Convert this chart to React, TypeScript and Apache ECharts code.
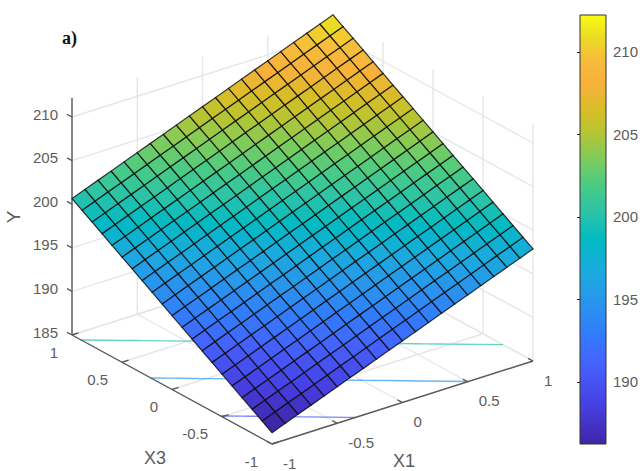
import React, { useEffect, useRef } from "react";
import * as echarts from "echarts";

const x1Grid = [-1,-0.9,-0.8,-0.7,-0.6,-0.5,-0.4,-0.3,-0.2,-0.1,0,0.1,0.2,0.3,0.4,0.5,0.6,0.7,0.8,0.9,1];
const x3Grid = [-1,-0.9,-0.8,-0.7,-0.6,-0.5,-0.4,-0.3,-0.2,-0.1,0,0.1,0.2,0.3,0.4,0.5,0.6,0.7,0.8,0.9,1];
// Y: one row per X3, one column per X1
const yRows = [
[186.30,186.88,187.46,188.03,188.61,189.19,189.77,190.34,190.92,191.50,192.08,192.65,193.23,193.81,194.39,194.96,195.54,196.12,196.70,197.27,197.85],
[187.02,187.60,188.18,188.75,189.33,189.91,190.49,191.06,191.64,192.22,192.80,193.37,193.95,194.53,195.11,195.68,196.26,196.84,197.42,197.99,198.57],
[187.74,188.32,188.90,189.47,190.05,190.63,191.21,191.78,192.36,192.94,193.52,194.09,194.67,195.25,195.83,196.40,196.98,197.56,198.14,198.71,199.29],
[188.45,189.03,189.61,190.18,190.76,191.34,191.92,192.49,193.07,193.65,194.23,194.80,195.38,195.96,196.54,197.11,197.69,198.27,198.85,199.42,200.00],
[189.17,189.75,190.33,190.90,191.48,192.06,192.64,193.21,193.79,194.37,194.95,195.52,196.10,196.68,197.26,197.83,198.41,198.99,199.57,200.14,200.72],
[189.89,190.47,191.05,191.62,192.20,192.78,193.36,193.93,194.51,195.09,195.67,196.24,196.82,197.40,197.98,198.55,199.13,199.71,200.29,200.86,201.44],
[190.61,191.19,191.77,192.34,192.92,193.50,194.08,194.65,195.23,195.81,196.39,196.96,197.54,198.12,198.70,199.27,199.85,200.43,201.01,201.58,202.16],
[191.32,191.90,192.48,193.05,193.63,194.21,194.79,195.36,195.94,196.52,197.10,197.67,198.25,198.83,199.41,199.98,200.56,201.14,201.72,202.29,202.87],
[192.04,192.62,193.20,193.77,194.35,194.93,195.51,196.08,196.66,197.24,197.82,198.39,198.97,199.55,200.13,200.70,201.28,201.86,202.44,203.01,203.59],
[192.76,193.34,193.92,194.49,195.07,195.65,196.23,196.80,197.38,197.96,198.54,199.11,199.69,200.27,200.85,201.42,202.00,202.58,203.16,203.73,204.31],
[193.48,194.06,194.64,195.21,195.79,196.37,196.95,197.52,198.10,198.68,199.26,199.83,200.41,200.99,201.57,202.14,202.72,203.30,203.88,204.45,205.03],
[194.19,194.77,195.35,195.92,196.50,197.08,197.66,198.23,198.81,199.39,199.97,200.54,201.12,201.70,202.28,202.85,203.43,204.01,204.59,205.16,205.74],
[194.91,195.49,196.07,196.64,197.22,197.80,198.38,198.95,199.53,200.11,200.69,201.26,201.84,202.42,203.00,203.57,204.15,204.73,205.31,205.88,206.46],
[195.63,196.21,196.79,197.36,197.94,198.52,199.10,199.67,200.25,200.83,201.41,201.98,202.56,203.14,203.72,204.29,204.87,205.45,206.03,206.60,207.18],
[196.35,196.93,197.51,198.08,198.66,199.24,199.82,200.39,200.97,201.55,202.13,202.70,203.28,203.86,204.44,205.01,205.59,206.17,206.75,207.32,207.90],
[197.06,197.64,198.22,198.79,199.37,199.95,200.53,201.10,201.68,202.26,202.84,203.41,203.99,204.57,205.15,205.72,206.30,206.88,207.46,208.03,208.61],
[197.78,198.36,198.94,199.51,200.09,200.67,201.25,201.82,202.40,202.98,203.56,204.13,204.71,205.29,205.87,206.44,207.02,207.60,208.18,208.75,209.33],
[198.50,199.08,199.66,200.23,200.81,201.39,201.97,202.54,203.12,203.70,204.28,204.85,205.43,206.01,206.59,207.16,207.74,208.32,208.90,209.47,210.05],
[199.22,199.80,200.38,200.95,201.53,202.11,202.69,203.26,203.84,204.42,205.00,205.57,206.15,206.73,207.31,207.88,208.46,209.04,209.62,210.19,210.77],
[199.93,200.51,201.09,201.66,202.24,202.82,203.40,203.97,204.55,205.13,205.71,206.28,206.86,207.44,208.02,208.59,209.17,209.75,210.33,210.90,211.48],
[200.65,201.23,201.81,202.38,202.96,203.54,204.12,204.69,205.27,205.85,206.43,207.00,207.58,208.16,208.74,209.31,209.89,210.47,211.05,211.62,212.20],
];

const x1Ticks = [-1, -0.5, 0, 0.5, 1];
const x3Ticks = [1, 0.5, 0, -0.5, -1];
const yTicks = [185, 190, 195, 200, 205, 210];
const contourLevels = [190, 195, 200, 205, 210];
const colorbarTicks = [190, 195, 200, 205, 210];
const yFloor = 185;
const yTop = 212.2;
const cMin = 186.24;
const cMax = 212.24;

const colormapStops: [number, string][] = [
  [0, "#3E26A8"], [0.095, "#4741E5"], [0.19, "#4563FD"], [0.254, "#327BFC"],
  [0.317, "#2B91EF"], [0.397, "#1CA9DF"], [0.476, "#02BAC3"], [0.54, "#2CC3A7"],
  [0.603, "#4ACB84"], [0.667, "#81CC59"], [0.73, "#B9C431"], [0.775, "#D6BE28"],
  [0.84, "#F8B13A"], [0.9, "#F6BE3A"], [0.95, "#EBDD22"], [1, "#F9FB15"],
];

function colorOf(v: number): string {
  const t = Math.max(0, Math.min(1, (v - cMin) / (cMax - cMin)));
  for (let k = 1; k < colormapStops.length; k++) {
    const [b, cb] = colormapStops[k];
    if (t <= b) {
      const [a, ca] = colormapStops[k - 1];
      return echarts.color.lerp((t - a) / (b - a), [ca, cb]) as string;
    }
  }
  return colormapStops[colormapStops.length - 1][1];
}

// orthographic view of the 3-D box
const view = { cx: 302.5, cy: 348, x1: [130.5, -41.5], x3: [-100, -54.5], y: -8.72 };
function project(x1: number, x3: number, y: number): [number, number] {
  return [
    view.cx + view.x1[0] * x1 + view.x3[0] * x3,
    view.cy + view.x1[1] * x1 + view.x3[1] * x3 + view.y * (y - yFloor),
  ];
}

type P3 = [number, number, number];
type Seg = [P3, P3];

const wallSegs: Seg[] = [];
for (const t of yTicks) {
  wallSegs.push([[-1, 1, t], [1, 1, t]]);
  wallSegs.push([[1, 1, t], [1, -1, t]]);
}
for (const t of x1Ticks) {
  wallSegs.push([[t, 1, yFloor], [t, 1, yTop]]);
  wallSegs.push([[t, 1, yFloor], [t, -1, yFloor]]);
}
for (const t of x3Ticks) {
  wallSegs.push([[1, t, yFloor], [1, t, yTop]]);
  wallSegs.push([[-1, t, yFloor], [1, t, yFloor]]);
}

const axisSegs: Seg[] = [
  [[-1, 1, yFloor], [-1, 1, yTop]],
  [[-1, 1, yFloor], [-1, -1, yFloor]],
  [[-1, -1, yFloor], [1, -1, yFloor]],
];
for (const t of yTicks) axisSegs.push([[-1, 1, t], [-1, 1.05, t]]);
for (const t of x3Ticks) axisSegs.push([[-1, t, yFloor], [-0.95, t, yFloor]]);
for (const t of x1Ticks) axisSegs.push([[t, -1, yFloor], [t, -0.95, yFloor]]);

const contourSegs: { seg: Seg; color: string }[] = [];
for (const level of contourLevels) {
  for (let j = 0; j < x3Grid.length - 1; j++) {
    for (let i = 0; i < x1Grid.length - 1; i++) {
      const corners: [number, number, number][] = [
        [x1Grid[i], x3Grid[j], yRows[j][i]],
        [x1Grid[i + 1], x3Grid[j], yRows[j][i + 1]],
        [x1Grid[i + 1], x3Grid[j + 1], yRows[j + 1][i + 1]],
        [x1Grid[i], x3Grid[j + 1], yRows[j + 1][i]],
      ];
      const hits: P3[] = [];
      for (let k = 0; k < 4; k++) {
        const a = corners[k];
        const b = corners[(k + 1) % 4];
        if (a[2] < level !== b[2] < level) {
          const f = (level - a[2]) / (b[2] - a[2]);
          hits.push([a[0] + (b[0] - a[0]) * f, a[1] + (b[1] - a[1]) * f, yFloor]);
        }
      }
      if (hits.length >= 2) contourSegs.push({ seg: [hits[0], hits[1]], color: colorOf(level) });
    }
  }
}

const FONT = "'Liberation Sans', Arial, sans-serif";
const TEXT = "#5c5c5c";

type Lab = { text: string; at: P3; dx: number; dy: number; align: string };
const tickLabels: Lab[] = [
  ...yTicks.map((t) => ({ text: String(t), at: [-1, 1, t] as P3, dx: -14, dy: -3, align: "right" })),
  ...x3Ticks.map((t) => ({ text: String(t), at: [-1, t, yFloor] as P3, dx: -14, dy: 17, align: "right" })),
  ...x1Ticks.map((t) => ({ text: String(t), at: [t, -1, yFloor] as P3, dx: 11, dy: 19, align: "left" })),
];

function segSeries(segs: Seg[], z: number, stroke: string, lineWidth: number) {
  return {
    type: "custom",
    xAxisIndex: 0,
    yAxisIndex: 0,
    z,
    silent: true,
    clip: false,
    data: segs.map((_, k) => [k]),
    renderItem: (_p: any, api: any) => {
      const s = segs[api.value(0)];
      const a = api.coord(project(s[0][0], s[0][1], s[0][2]));
      const b = api.coord(project(s[1][0], s[1][1], s[1][2]));
      return {
        type: "line",
        shape: { x1: a[0], y1: a[1], x2: b[0], y2: b[1] },
        style: { stroke, lineWidth, fill: "none" },
      };
    },
  };
}

export default function App() {
  const ref = useRef<HTMLDivElement>(null);
  useEffect(() => {
    const chart = echarts.init(ref.current!, undefined, { renderer: "svg" });
    const cells: number[][] = [];
    for (let j = 0; j < x3Grid.length - 1; j++)
      for (let i = 0; i < x1Grid.length - 1; i++) cells.push([i, j]);

    chart.setOption({
      animation: false,
      backgroundColor: "#fff",
      grid: [
        { left: 0, top: 0, width: 644, height: 471, show: false },
        { left: 580, top: 15, width: 26, height: 429, show: false },
      ],
      xAxis: [
        { type: "value", gridIndex: 0, min: 0, max: 644, show: false },
        { type: "value", gridIndex: 1, min: 0, max: 1, show: false },
      ],
      yAxis: [
        { type: "value", gridIndex: 0, min: 0, max: 471, inverse: true, show: false },
        {
          type: "value",
          gridIndex: 1,
          min: cMin,
          max: cMax,
          position: "right",
          splitLine: { show: false },
          axisLine: { show: false },
          axisTick: { show: true, inside: true, length: 3, customValues: colorbarTicks, lineStyle: { color: "#222", width: 1 } },
          axisLabel: { show: true, customValues: colorbarTicks, color: TEXT, fontSize: 15, fontFamily: FONT, margin: 7 },
          z: 5,
        },
      ],
      graphic: [
        { type: "text", x: 62, y: 38, style: { text: "a)", fill: "#111", font: "bold 18px 'Liberation Serif', serif", textVerticalAlign: "middle" } },
        { type: "text", x: 155, y: 458, style: { text: "X3", fill: TEXT, font: `18px ${FONT}`, textAlign: "center", textVerticalAlign: "middle" } },
        { type: "text", x: 404, y: 461, style: { text: "X1", fill: TEXT, font: `18px ${FONT}`, textAlign: "center", textVerticalAlign: "middle" } },
        { type: "text", x: 13, y: 217, rotation: Math.PI / 2, style: { text: "Y", fill: TEXT, font: `19px ${FONT}`, textAlign: "center", textVerticalAlign: "middle" } },
      ],
      series: [
        segSeries(wallSegs, 1, "#e6e6e6", 1.4),
        {
          type: "custom",
          xAxisIndex: 0,
          yAxisIndex: 0,
          z: 2,
          silent: true,
          clip: false,
          data: contourSegs.map((_, k) => [k]),
          renderItem: (_p: any, api: any) => {
            const c = contourSegs[api.value(0)];
            const a = api.coord(project(c.seg[0][0], c.seg[0][1], c.seg[0][2]));
            const b = api.coord(project(c.seg[1][0], c.seg[1][1], c.seg[1][2]));
            return {
              type: "line",
              shape: { x1: a[0], y1: a[1], x2: b[0], y2: b[1] },
              style: { stroke: c.color, lineWidth: 1.4, opacity: 0.7, fill: "none" },
            };
          },
        },
        segSeries(axisSegs, 3, "#5a5a5a", 1.4),
        {
          type: "custom",
          xAxisIndex: 0,
          yAxisIndex: 0,
          z: 4,
          silent: true,
          clip: false,
          data: cells,
          renderItem: (_p: any, api: any) => {
            const i = api.value(0);
            const j = api.value(1);
            const pts = [
              [i, j],
              [i + 1, j],
              [i + 1, j + 1],
              [i, j + 1],
            ].map(([a, b]) => api.coord(project(x1Grid[a], x3Grid[b], yRows[b][a])));
            return {
              type: "polygon",
              shape: { points: pts },
              style: { fill: colorOf(yRows[j][i]), stroke: "rgba(10,10,10,0.8)", lineWidth: 1.25 },
            };
          },
        },
        {
          type: "custom",
          xAxisIndex: 0,
          yAxisIndex: 0,
          z: 5,
          silent: true,
          clip: false,
          data: tickLabels.map((_, k) => [k]),
          renderItem: (_p: any, api: any) => {
            const l = tickLabels[api.value(0)];
            const c = api.coord(project(l.at[0], l.at[1], l.at[2]));
            return {
              type: "text",
              x: c[0] + l.dx,
              y: c[1] + l.dy,
              style: { text: l.text, fill: TEXT, fontSize: 15, fontFamily: FONT, textAlign: l.align, textVerticalAlign: "middle" },
            };
          },
        },
        {
          type: "custom",
          xAxisIndex: 1,
          yAxisIndex: 1,
          z: 3,
          silent: true,
          clip: false,
          data: [[0]],
          renderItem: (_p: any, api: any) => {
            const tl = api.coord([0, cMax]);
            const br = api.coord([1, cMin]);
            return {
              type: "rect",
              shape: { x: tl[0], y: tl[1], width: br[0] - tl[0], height: br[1] - tl[1] },
              style: {
                fill: new echarts.graphic.LinearGradient(
                  0, 1, 0, 0,
                  colormapStops.map(([offset, color]) => ({ offset, color }))
                ),
                stroke: "#333",
                lineWidth: 1,
              },
            };
          },
        },
      ],
    });
    return () => chart.dispose();
  }, []);
  return <div ref={ref} style={{ position: "fixed", left: 0, top: 0, width: 644, height: 471 }} />;
}
